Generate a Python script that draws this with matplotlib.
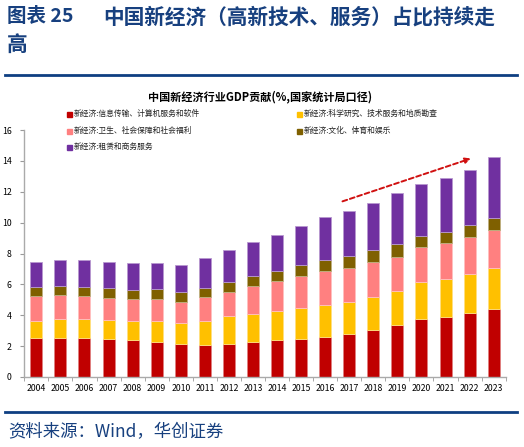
import numpy as np
import matplotlib
matplotlib.use('Agg')
from matplotlib import pyplot as plt
from matplotlib.lines import Line2D

plt.rcParams['font.family'] = ['Noto Sans CJK SC', 'DejaVu Sans']

years = [str(y) for y in range(2004, 2024)]

info_tech = [2.52, 2.52, 2.52, 2.44, 2.39, 2.29, 2.16, 2.09, 2.16, 2.26,
             2.39, 2.46, 2.61, 2.78, 3.04, 3.34, 3.75, 3.86, 4.12, 4.42]
sci_top = [3.62, 3.73, 3.75, 3.69, 3.65, 3.62, 3.47, 3.65, 3.93, 4.10,
           4.27, 4.47, 4.64, 4.83, 5.20, 5.57, 6.15, 6.36, 6.69, 7.03]
health_top = [5.24, 5.28, 5.26, 5.13, 5.07, 5.07, 4.87, 5.16, 5.52, 5.89,
              6.23, 6.54, 6.86, 7.05, 7.42, 7.79, 8.43, 8.65, 9.08, 9.53]
culture_top = [5.85, 5.91, 5.82, 5.74, 5.65, 5.67, 5.52, 5.78, 6.17, 6.56,
               6.86, 7.25, 7.57, 7.81, 8.20, 8.59, 9.15, 9.40, 9.86, 10.33]
total = [7.44, 7.55, 7.55, 7.44, 7.38, 7.40, 7.27, 7.68, 8.22, 8.76,
         9.17, 9.81, 10.38, 10.76, 11.30, 11.91, 12.47, 12.88, 13.42, 14.24]

labels = ['新经济:信息传输、计算机服务和软件', '新经济:科学研究、技术服务和地质勘查',
          '新经济:卫生、社会保障和社会福利', '新经济:文化、体育和娱乐',
          '新经济:租赁和商务服务']
colors = ['#C00000', '#FFC000', '#FF8080', '#7F6000', '#7030A0']
edges = ['#e08080', '#ffe080', '#ffc0c0', '#bfb080', '#b898d0']

tops = np.array([info_tech, sci_top, health_top, culture_top, total])
bottoms = np.vstack([np.zeros(len(years)), tops[:-1]])
heights = tops - bottoms

navy = '#17407F'

fig = plt.figure(figsize=(5.24, 4.47), dpi=100)
W, H = 524, 447


def fx(px):
    return px / W


def fy(py):
    return 1 - py / H


# page header
fig.text(fx(7), fy(17), '图表 25', fontsize=14, fontweight='bold', color=navy, va='center')
fig.text(fx(103), fy(17), '中国新经济（高新技术、服务）占比持续走', fontsize=14.9,
         fontweight='bold', color=navy, va='center')
fig.text(fx(7), fy(44), '高', fontsize=14.9, fontweight='bold', color=navy, va='center')
fig.add_artist(Line2D([fx(5), fx(517)], [fy(75), fy(75)], color='#0e3f82', lw=2))

# chart title
fig.text(0.497, fy(97), '中国新经济行业GDP贡献(%,国家统计局口径)', fontsize=8,
         fontweight='bold', ha='center', va='center', color='black')

# legend
leg_pos = [(69, 114), (299, 114), (69, 131), (299, 131), (69, 147)]
for (lx, ly), lab, c in zip(leg_pos, labels, colors):
    fig.add_artist(plt.Rectangle((fx(lx - 2.5), fy(ly + 2.5)), 5 / W, 5 / H,
                                 color=c, transform=fig.transFigure))
    fig.text(fx(lx + 5), fy(ly), lab, fontsize=5.6, va='center', color='#222222')

ax = fig.add_axes([fx(24.3), fy(377), fx(505.7) - fx(24.3), fy(130) - fy(377)])
x = np.arange(len(years))
for i in range(5):
    ax.bar(x, heights[i], bottom=bottoms[i], width=0.5, color=colors[i],
           edgecolor=edges[i], linewidth=0.6)

ax.set_xlim(-0.5, len(years) - 0.5)
ax.set_ylim(0, 16)
ax.set_yticks(range(0, 17, 2))
ax.set_xticks(np.arange(-0.5, len(years), 1), minor=True)
ax.set_xticks(x)
ax.set_xticklabels(years)
ax.tick_params(axis='x', which='major', length=0, labelsize=6.3, pad=5)
ax.tick_params(axis='x', which='minor', length=3, color='#999999')
ax.tick_params(axis='y', length=3, color='#999999', labelsize=6.3, pad=6)
for s in ['top', 'right']:
    ax.spines[s].set_visible(False)
for s in ['left', 'bottom']:
    ax.spines[s].set_color('#aaaaaa')
    ax.spines[s].set_linewidth(1.0)

# trend arrow
ax.annotate('', xy=(18.16, 14.21), xytext=(12.61, 11.32),
            arrowprops=dict(arrowstyle='-|>', color='#D01010', lw=1.4,
                            linestyle=(0, (2.5, 1.5)), mutation_scale=8))

# footer
fig.add_artist(Line2D([fx(5), fx(517)], [fy(412), fy(412)], color='#0e3f82', lw=2))
fig.text(fx(8), fy(432), '资料来源：Wind，华创证券', fontsize=12.5, style='italic',
         color=navy, va='center')

fig.savefig('out.png', dpi=100)
